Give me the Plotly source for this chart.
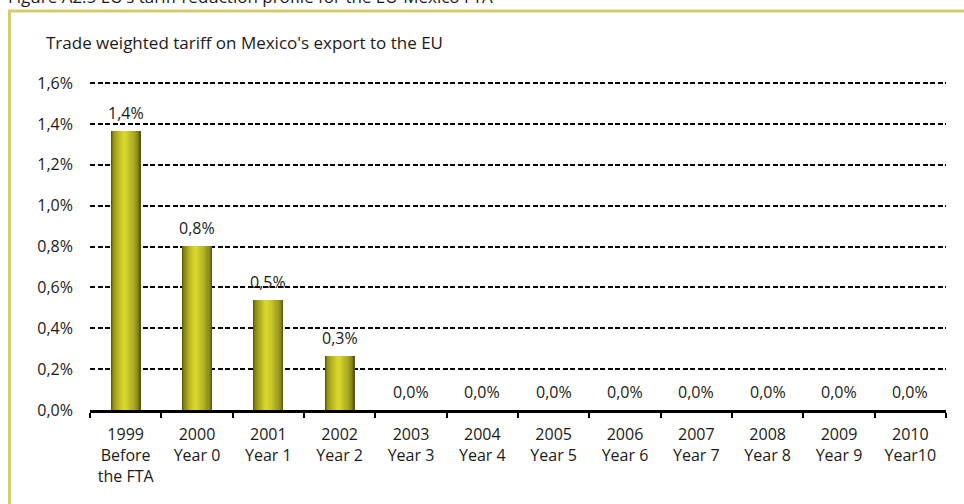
import plotly.graph_objects as go

years = ["1999", "2000", "2001", "2002", "2003", "2004", "2005", "2006", "2007", "2008", "2009", "2010"]
stages = ["Before<br>the FTA", "Year 0", "Year 1", "Year 2", "Year 3", "Year 4", "Year 5",
          "Year 6", "Year 7", "Year 8", "Year 9", "Year10"]
tariff = [1.365, 0.804, 0.538, 0.264, 0.0, 0.0, 0.0, 0.0, 0.0, 0.0, 0.0, 0.0]
y_ticks = [0.0, 0.2, 0.4, 0.6, 0.8, 1.0, 1.2, 1.4, 1.6]

categories = [f"{y}<br>{s}" for y, s in zip(years, stages)]
y_ticktext = [f"{v:.1f}%".replace(".", ",") for v in y_ticks]

FONT = "Open Sans"
TXT = "#1a1a1a"

# plot area pixel geometry
L, R, T, B = 90, 18, 81, 94
W, H = 964, 504
PW, PH = W - L - R, H - T - B


def px_x(px):
    return (px - L) / PW


def px_y(py):
    return 1 + (T - py) / PH


fig = go.Figure()

# simulated cylinder gradient via overlaid bars
dark = (0x5a, 0x5a, 0x0c)
bright = (0xd8, 0xd6, 0x2c)
N = 14
BW = 0.42
for i in range(N):
    t = i / (N - 1)
    w = BW * (1 - 0.9 * t)
    center = -0.05 * BW * t
    tc = t ** 0.55
    col = "rgb({},{},{})".format(*[round(d + (b - d) * tc) for d, b in zip(dark, bright)])
    fig.add_trace(go.Bar(
        x=categories, y=tariff, width=w, offset=center - w / 2,
        marker=dict(color=col, line=dict(width=0)),
        hoverinfo="skip", showlegend=False,
    ))

annotations = []
for c, v in zip(categories, tariff):
    annotations.append(dict(
        x=c, y=v, xref="x", yref="y", text=f"{v:.1f}%".replace(".", ","),
        showarrow=False, yanchor="middle", yshift=18,
        font=dict(family=FONT, size=16, color=TXT),
    ))

annotations.append(dict(
    x=px_x(44), y=px_y(43), xref="paper", yref="paper", xanchor="left", yanchor="middle",
    text="Trade weighted tariff on Mexico's export to the EU", showarrow=False,
    font=dict(family=FONT, size=17, color=TXT),
))
annotations.append(dict(
    x=px_x(6), y=px_y(-4), xref="paper", yref="paper", xanchor="left", yanchor="middle",
    text="Figure A2.5 EU's tariff reduction profile for the EU-Mexico FTA", showarrow=False,
    font=dict(family=FONT, size=17, color=TXT),
))

border = "#d5cd6c"
shapes = [
    dict(type="line", xref="paper", yref="paper", x0=px_x(9.5), x1=px_x(9.5),
         y0=px_y(520), y1=px_y(11), line=dict(color=border, width=3)),
    dict(type="line", xref="paper", yref="paper", x0=px_x(8), x1=px_x(980),
         y0=px_y(11), y1=px_y(11), line=dict(color=border, width=3)),
]

fig.update_layout(
    width=W, height=H,
    margin=dict(l=L, r=R, t=T, b=B, pad=0),
    paper_bgcolor="white", plot_bgcolor="white",
    barmode="overlay", bargap=0,
    separators=",.",
    font=dict(family=FONT, size=16, color=TXT),
    annotations=annotations, shapes=shapes,
    xaxis=dict(
        type="category", tickson="boundaries", ticks="outside", ticklen=5, tickwidth=2,
        tickcolor="black", showline=True, linecolor="black", linewidth=3,
        showgrid=False, tickfont=dict(family=FONT, size=16, color=TXT),
        ticklabelstandoff=8,
    ),
    yaxis=dict(
        range=[0, 1.61], tickvals=y_ticks, ticktext=y_ticktext,
        showgrid=True, gridcolor="#000000", gridwidth=1.6, griddash="5px,2.5px",
        zeroline=False, showline=False, ticks="",
        tickfont=dict(family=FONT, size=16, color=TXT), ticklabelstandoff=16,
    ),
)

fig.write_html("out.html")
